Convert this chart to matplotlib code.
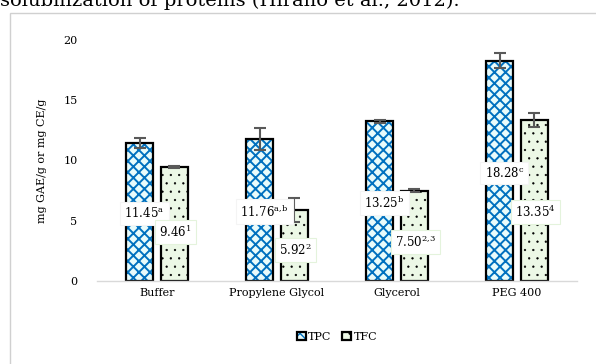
import numpy as np
import matplotlib.pyplot as plt
from matplotlib.patches import Rectangle

# Data
solvents = ['Buffer', 'Propylene Glycol', 'Glycerol', 'PEG 400']
tpc = [11.45, 11.76, 13.25, 18.28]
tfc = [9.46, 5.92, 7.50, 13.35]
tpc_err = [0.4, 0.9, 0.15, 0.6]
tfc_err = [0.05, 1.0, 0.1, 0.6]
tpc_sup = ['a', 'a,b', 'b', 'c']
tfc_sup = ['1', '2', '2,3', '4']

plt.rcParams['font.family'] = 'DejaVu Serif'
plt.rcParams['mathtext.fontset'] = 'dejavuserif'

fig = plt.figure(figsize=(5.96, 3.64), dpi=100)
ax = fig.add_axes([97/596, 1 - 281/364, 480/596, 241/364])

# page text cut at top and chart frame
fig.text(0.0, 1 - 6/364, 'solubilization of proteins (Hirano et al., 2012).',
         fontsize=14, va='baseline', ha='left')
fig.patches.append(Rectangle((10/596, -0.1), 1.0, 1 - 13/364 + 0.1, transform=fig.transFigure,
                             fill=False, edgecolor='#d0d0d0', lw=1.0))

x = np.arange(len(solvents))
w = 0.225
gap = 0.065

b1 = ax.bar(x - (w + gap) / 2, tpc, w, color='#e8fbfb', edgecolor='black', lw=1.6,
            hatch='xxx', label='TPC')
for p in b1:
    p.set_hatch_linewidth(1.4)
    p._hatch_color = (0, 0.44, 0.75, 1)
b2 = ax.bar(x + (w + gap) / 2, tfc, w, color='#ecf8e6', edgecolor='black', lw=1.6,
            hatch='..', label='TFC')
for p in b2:
    p._hatch_color = (0, 0, 0, 1)
    p.set_hatch_linewidth(0.4)

ax.errorbar(x - (w + gap) / 2, tpc, yerr=tpc_err, fmt='none', ecolor='#595959',
            elinewidth=1.5, capsize=4.5, capthick=1.5)
ax.errorbar(x + (w + gap) / 2, tfc, yerr=tfc_err, fmt='none', ecolor='#595959',
            elinewidth=1.5, capsize=4.5, capthick=1.5)

# value labels
for i in range(len(solvents)):
    s1 = tpc_sup[i].replace(',', '{,}')
    s2 = tfc_sup[i].replace(',', '{,}')
    ax.text(x[i] - (w + gap) / 2 + 0.04, tpc[i] * 0.49, '%.2f$^{\\mathrm{%s}}$' % (tpc[i], s1),
            ha='center', va='center', fontsize=8.5,
            bbox=dict(boxstyle='square,pad=0.35', fc='white', ec='#f4f4f4', lw=0.8))
    ax.text(x[i] + (w + gap) / 2 + 0.01, tfc[i] * 0.43, '%.2f$^{\\mathrm{%s}}$' % (tfc[i], s2),
            ha='center', va='center', fontsize=8.5,
            bbox=dict(boxstyle='square,pad=0.35', fc='white', ec='#e4f3dc', lw=0.8))

ax.set_xlim(-0.5, len(solvents) - 0.5)
ax.set_ylim(0, 20)
ax.set_yticks([0, 5, 10, 15, 20])
ax.set_xticks(x)
ax.set_xticklabels(solvents, fontsize=8)
ax.tick_params(axis='y', labelsize=8, length=0, pad=14)
ax.tick_params(axis='x', length=0, pad=5)
for s in ['top', 'right', 'left']:
    ax.spines[s].set_visible(False)
ax.spines['bottom'].set_color('#d9d9d9')
ax.spines['bottom'].set_linewidth(1.0)
ax.set_ylabel('mg GAE/g or mg CE/g', fontsize=8, labelpad=12)

leg = ax.legend(loc='upper center', bbox_to_anchor=(0.5, -0.17), ncol=2, frameon=False,
                fontsize=8, handlelength=0.8, handleheight=0.8, handletextpad=0.2,
                columnspacing=1.0)

fig.savefig('out.png', dpi=100)
